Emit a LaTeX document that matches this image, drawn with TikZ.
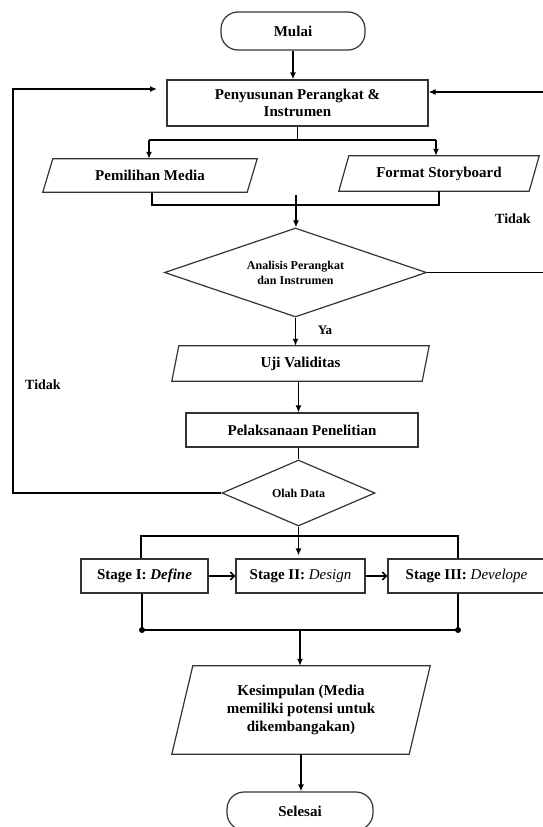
\documentclass[tikz,border=0pt]{standalone}
\usepackage{fontspec}
\setmainfont{Liberation Serif}
\usetikzlibrary{shapes.geometric,arrows.meta}
\tikzset{
  outline/.style={draw=black!80, line width=1.2pt},
  blk/.style={rectangle, outline, inner sep=0pt, align=center,
    font=\fontsize{15}{17}\selectfont\bfseries},
  term/.style={blk, rounded corners=17pt},
  pbox/.style={rectangle, draw=none, inner sep=0pt, align=center,
    font=\fontsize{15}{18}\selectfont\bfseries},
  dec/.style={diamond, outline, inner sep=0pt, align=center,
    font=\fontsize{12}{15}\selectfont\bfseries},
  lbl/.style={inner sep=0pt, font=\fontsize{14}{16}\selectfont\bfseries},
  wire/.style={draw=black, line width=1.6pt},
  conn/.style={wire, -{Latex[length=7pt,width=6pt]}},
  barb/.style={wire, -{Straight Barb[length=4pt,width=8pt]}},
  dot/.style={circle, fill=black, inner sep=0pt, minimum size=6pt}
}
\newcommand\drawpara[2]{\draw[outline] ([xshift=#2]#1.north west) -- (#1.north east) -- ([xshift=-#2]#1.south east) -- (#1.south west) -- cycle;}
\begin{document}
\begin{tikzpicture}[x=1pt,y=-1pt]
\useasboundingbox (0,0) rectangle (543,827);
% nodes
\node[term, minimum width=144pt, minimum height=38pt] (mulai) at (293,31) {Mulai};
\node[blk, minimum width=261pt, minimum height=46pt] (pen) at (297.5,103) {Penyusunan Perangkat \&\\Instrumen};
\node[pbox, minimum width=214pt, minimum height=33pt] (pem) at (150,175.5) {Pemilihan Media};
\drawpara{pem}{10pt}
\node[pbox, minimum width=200pt, minimum height=35pt] (fmt) at (439,173.5) {Format Storyboard};
\drawpara{fmt}{10pt}
\node[dec, aspect=3, minimum width=262pt, minimum height=89pt] (ana) at (295.5,272.5) {Analisis Perangkat\\dan Instrumen};
\node[lbl] (tidakR) at (513,219) {Tidak};
\node[lbl, font=\fontsize{13}{15}\selectfont\bfseries] (ya) at (325,330) {Ya};
\node[pbox, minimum width=257pt, minimum height=35pt] (uji) at (300.5,363.5) {Uji Validitas};
\drawpara{uji}{7pt}
\node[lbl] (tidakL) at (43,385) {Tidak};
\node[blk, minimum width=232pt, minimum height=34pt] (pel) at (302,430) {Pelaksanaan Penelitian};
\node[dec, aspect=2.3, minimum width=153pt, minimum height=66pt] (olah) at (298.5,493) {Olah Data};
\node[blk, minimum width=127pt, minimum height=34pt] (s1) at (144.5,576) {Stage I: \textit{Define}};
\node[blk, minimum width=129pt, minimum height=34pt] (s2) at (300.5,576) {Stage II: \textit{\mdseries Design}};
\node[blk, minimum width=157pt, minimum height=34pt] (s3) at (466.5,576) {Stage III: \textit{\mdseries Develope}};
\node[pbox, minimum width=258pt, minimum height=88pt] (kes) at (301,710) {Kesimpulan (Media\\memiliki potensi untuk\\dikembangakan)};
\drawpara{kes}{21pt}
\node[term, minimum width=146pt, minimum height=38pt] (sel) at (300,811) {Selesai};
% coordinates
\coordinate (lc) at (13,89);
\coordinate (ltip) at (157,89);
\coordinate (rc) at (546,92);
\coordinate (brL) at (149,140);
\coordinate (brR) at (436,140);
\coordinate (bkL) at (152,205);
\coordinate (bkR) at (439,205);
\coordinate (as) at (296,195);
\coordinate (tkL) at (141,536);
\coordinate (tkR) at (458,536);
\coordinate (bbL) at (142,630);
\coordinate (bbR) at (458,630);
\coordinate (bm) at (300,630);
% connectors
\draw[conn] (mulai.south) -- (mulai.south |- pen.north);
\draw[conn] (olah.west) -| (lc) -- (ltip);
\draw[conn] (ana.east) -| (rc) -- (pen.east |- rc);
\draw[wire] (pen.south) -- (pen.south |- brL);
\draw[wire] (brL) -- (brR);
\draw[conn] (brL) -- (brL |- pem.north);
\draw[conn] (brR) -- (brR |- fmt.north);
\draw[wire] (bkL |- pem.south) -- (bkL) -- (bkR) -- (bkR |- fmt.south);
\draw[conn] (as) -- (as |- ana.north);
\draw[conn] (ana.south) -- (ana.south |- uji.north);
\draw[conn] (olah.north |- uji.south) -- (olah.north |- pel.north);
\draw[wire] (olah.north |- pel.south) -- (olah.north);
\draw[wire] (tkL |- s1.north) -- (tkL) -- (tkR) -- (tkR |- s3.north);
\draw[conn, shorten >=3pt] (olah.south) -- (olah.south |- s2.north);
\draw[barb] (s1.east) -- (s2.west);
\draw[barb] (s2.east) -- (s3.west);
\draw[wire] (bbL |- s1.south) -- (bbL) -- (bbR) -- (bbR |- s3.south);
\node[dot] (d1) at (bbL) {};
\node[dot] (d2) at (bbR) {};
\draw[conn] (bm) -- (bm |- kes.north);
\draw[conn] (kes.south) -- (kes.south |- sel.north);
\end{tikzpicture}
\end{document}
